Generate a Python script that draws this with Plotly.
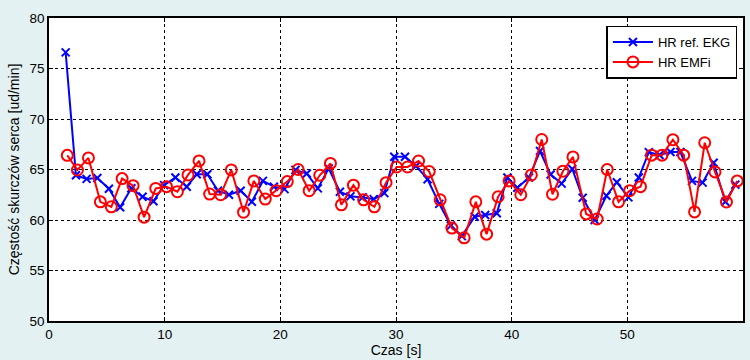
import plotly.graph_objects as go

t_ekg = [1.44, 2.33, 3.25, 4.18, 5.18, 6.15, 7.12, 8.09, 9.03, 9.95, 10.93, 11.91, 12.77, 13.69, 14.61,
         15.56, 16.57, 17.54, 18.49, 19.44, 20.36, 21.31, 22.29, 23.24, 24.18, 25.15, 26.06, 27.12, 28.07,
         28.99, 29.85, 30.78, 31.73, 32.73, 33.74, 34.75, 35.69, 36.80, 37.71, 38.71, 39.63, 40.49, 41.50,
         42.45, 43.37, 44.32, 45.24, 46.14, 47.18, 48.19, 49.09, 50.09, 50.99, 51.86, 52.78, 53.73, 54.59,
         55.59, 56.51, 57.46, 58.47, 59.34]
hr_ekg = [76.6, 64.43, 64.07, 64.15, 63.1, 61.26, 63.15, 62.3, 61.85, 63.45, 64.2, 63.3, 64.53, 64.53, 62.9,
          62.5, 62.9, 61.8, 63.87, 63.3, 63.06, 64.96, 64.6, 63.13, 65.1, 62.8, 62.34, 62.24, 62.07,
          62.66, 66.27, 66.27, 65.35, 64.04, 61.6, 59.45, 58.4, 60.32, 60.5, 60.67, 64.2, 63.2, 64.2,
          66.83, 64.5, 63.6, 65.05, 62.2, 60.0, 62.4, 63.74, 62.24, 64.2, 66.72, 66.43, 66.73, 66.73,
          63.87, 63.7, 65.67, 61.8, 63.5]

t_emfi = [1.58, 2.46, 3.41, 4.44, 5.39, 6.32, 7.27, 8.22, 9.23, 10.16, 11.10, 12.02, 12.97, 13.89, 14.84,
          15.76, 16.82, 17.71, 18.70, 19.65, 20.60, 21.54, 22.49, 23.41, 24.33, 25.28, 26.32, 27.20, 28.13,
          29.14, 30.05, 31.00, 31.95, 32.87, 33.82, 34.83, 35.89, 36.90, 37.83, 38.83, 39.78, 40.79, 41.70,
          42.60, 43.53, 44.43, 45.30, 46.44, 47.39, 48.26, 49.24, 50.20, 51.14, 52.10, 53.00, 53.94, 54.87,
          55.81, 56.69, 57.58, 58.57, 59.50]
hr_emfi = [66.4, 64.95, 66.15, 61.8, 61.3, 64.1, 63.4, 60.28, 63.13, 63.3, 62.8, 64.46, 65.85, 62.57, 62.5,
           64.96, 60.77, 63.87, 62.07, 62.9, 63.8, 65.0, 62.9, 64.43, 65.6, 61.5, 63.45, 62.0, 61.3,
           63.7, 65.25, 65.25, 65.84, 64.8, 62.0, 59.2, 58.24, 61.8, 58.6, 62.3, 63.87, 62.5, 64.46,
           67.97, 62.55, 64.83, 66.25, 60.6, 60.1, 65.0, 61.8, 62.9, 63.3, 66.42, 66.42, 67.95, 66.42,
           60.8, 67.65, 64.76, 61.78, 63.87]

x_ticks = [0, 10, 20, 30, 40, 50, 60]
y_ticks = [50, 55, 60, 65, 70, 75, 80]

FONT = "Liberation Sans, Arial, sans-serif"

fig = go.Figure()
fig.add_trace(go.Scatter(
    x=t_ekg, y=hr_ekg, mode="lines+markers", name="HR ref. EKG",
    line=dict(color="#0000ff", width=2),
    marker=dict(symbol="x-thin", size=8, line=dict(color="#0000ff", width=2), color="#0000ff"),
))
fig.add_trace(go.Scatter(
    x=t_emfi, y=hr_emfi, mode="lines+markers", name="HR EMFi",
    line=dict(color="#ff0000", width=2),
    marker=dict(symbol="circle-open", size=11, line=dict(color="#ff0000", width=2), color="#ff0000"),
))

axis_common = dict(
    showline=True, linecolor="black", linewidth=1.5, mirror="ticks",
    ticks="inside", ticklen=4, tickcolor="black",
    showgrid=True, gridcolor="black", gridwidth=1, griddash="dot",
    zeroline=False,
    tickfont=dict(family=FONT, size=13.5, color="black"),
)

fig.update_xaxes(range=[0, 60], tickvals=x_ticks, ticktext=[str(v) for v in x_ticks],
                 title=dict(text="Czas [s]", standoff=3,
                            font=dict(family=FONT, size=14, color="black")),
                 **axis_common)
fig.update_yaxes(range=[50, 80], tickvals=y_ticks, ticktext=[str(v) for v in y_ticks],
                 title=dict(text="Częstość skurczów serca [ud/min]", standoff=7,
                            font=dict(family=FONT, size=14, color="black")),
                 **axis_common)

fig.update_layout(
    width=750, height=360,
    margin=dict(l=49, r=5, t=18, b=38),
    paper_bgcolor="#e4f1f2",
    plot_bgcolor="white",
    showlegend=True,
    legend=dict(
        x=0.992, y=0.975, xanchor="right", yanchor="top",
        bgcolor="white", bordercolor="black", borderwidth=1.5,
        font=dict(family=FONT, size=13, color="black"),
        itemwidth=40, tracegroupgap=0,
    ),
)

fig.write_html("out.html")
